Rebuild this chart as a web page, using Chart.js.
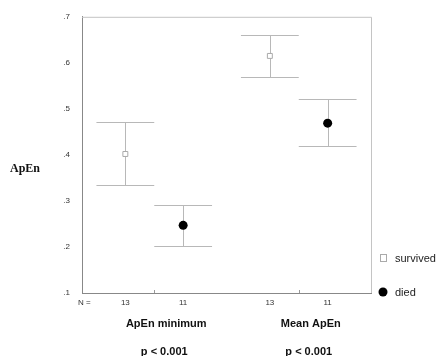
<!DOCTYPE html>
<html><head><meta charset="utf-8">
<script src="https://cdn.jsdelivr.net/npm/chart.js@4/dist/chart.umd.min.js"></script>
<style>html,body{margin:0;padding:0;background:#fff}#wrap{width:438px;height:356px}</style>
</head><body><div id="wrap"><canvas id="c" width="438" height="356"></canvas></div>
<script>
const categories = ['ApEn minimum', 'Mean ApEn'];
const pValues = ['p < 0.001', 'p < 0.001'];
const seriesNames = ['survived', 'died'];
const survivedN = ['13', '13'];
const diedN = ['11', '11'];
const survivedMean = [0.402, 0.615];
const survivedUpper = [0.471, 0.660];
const survivedLower = [0.334, 0.569];
const diedMean = [0.247, 0.469];
const diedUpper = [0.291, 0.521];
const diedLower = [0.203, 0.420];
const yTicks = [0.1, 0.2, 0.3, 0.4, 0.5, 0.6, 0.7];
const yTickLabels = ['.1', '.2', '.3', '.4', '.5', '.6', '.7'];
const yTitle = 'ApEn';
const nPrefix = 'N =';

// group i centre at x = 2i+1; survived at -0.4, died at +0.4
const OFF = 0.4;
const survPts = survivedMean.map((v, i) => ({x: 2 * i + 1 - OFF, y: v, lo: survivedLower[i], hi: survivedUpper[i]}));
const diedPts = diedMean.map((v, i) => ({x: 2 * i + 1 + OFF, y: v, lo: diedLower[i], hi: diedUpper[i]}));
const xTickVals = [];
const xTickText = {};
categories.forEach((c, i) => {
  xTickVals.push(2 * i + 1 - OFF, 2 * i + 1 + OFF);
  xTickText[(2 * i + 1 - OFF).toFixed(2)] = survivedN[i];
  xTickText[(2 * i + 1 + OFF).toFixed(2)] = diedN[i];
});

const errPlugin = {
  id: 'errbars',
  beforeDatasetsDraw(chart) {
    const {ctx, chartArea: a, scales: {x, y}} = chart;
    ctx.save();
    // top/right frame
    ctx.strokeStyle = '#c4c4c4';
    ctx.lineWidth = 1;
    ctx.beginPath();
    ctx.moveTo(a.left, a.top + 0.5); ctx.lineTo(a.right + 0.5, a.top + 0.5); ctx.lineTo(a.right + 0.5, a.bottom);
    ctx.stroke();
    // error bars
    ctx.strokeStyle = '#b8b8b8';
    chart.data.datasets.forEach(ds => {
      ds.data.forEach(p => {
        const px = Math.round(x.getPixelForValue(p.x)) + 0.5;
        const x0 = x.getPixelForValue(p.x - OFF), x1 = x.getPixelForValue(p.x + OFF);
        const yl = Math.round(y.getPixelForValue(p.lo)) + 0.5, yh = Math.round(y.getPixelForValue(p.hi)) + 0.5;
        ctx.beginPath();
        ctx.moveTo(px, yh); ctx.lineTo(px, yl);
        ctx.moveTo(x0, yh); ctx.lineTo(x1, yh);
        ctx.moveTo(x0, yl); ctx.lineTo(x1, yl);
        ctx.stroke();
      });
    });
    // small ticks at group centres
    ctx.strokeStyle = '#999';
    categories.forEach((c, i) => {
      const px = Math.round(x.getPixelForValue(2 * i + 1)) + 0.5;
      ctx.beginPath(); ctx.moveTo(px, a.bottom - 3); ctx.lineTo(px, a.bottom); ctx.stroke();
    });
    ctx.restore();
  },
  afterDraw(chart) {
    const {ctx, chartArea: a, scales: {x, y}} = chart;
    ctx.save();
    ctx.fillStyle = '#111';
    ctx.textAlign = 'left'; ctx.textBaseline = 'middle';
    ctx.font = 'bold 12px "Liberation Serif", "Times New Roman", serif';
    ctx.fillText(yTitle, 10, y.getPixelForValue(0.4) + 14);
    ctx.font = '8px "Liberation Sans", Arial, sans-serif';
    ctx.fillStyle = '#333';
    ctx.fillText(nPrefix, a.left - 4, a.bottom + 10);
    ctx.textAlign = 'center';
    ctx.fillStyle = '#111';
    categories.forEach((c, i) => {
      const cx = x.getPixelForValue(2 * i + 1) + 12;
      ctx.font = 'bold 11px "Liberation Sans", Arial, sans-serif';
      ctx.fillText(c, cx, a.bottom + 31);
      ctx.fillText(pValues[i], cx - 2, a.bottom + 59);
    });
    // legend
    ctx.textAlign = 'left';
    ctx.font = '11px "Liberation Sans", Arial, sans-serif';
    const lx = a.right + 12;
    const ly1 = y.getPixelForValue(0.18) + 2, ly2 = y.getPixelForValue(0.1) - 1;
    ctx.strokeStyle = '#aaa'; ctx.lineWidth = 1;
    ctx.strokeRect(Math.round(lx - 3) + 0.5, Math.round(ly1 - 4) + 0.5, 6, 7);
    ctx.fillStyle = '#222';
    ctx.fillText(seriesNames[0], lx + 12, ly1 + 1);
    ctx.beginPath(); ctx.arc(lx, ly2, 4.5, 0, Math.PI * 2); ctx.fillStyle = '#000'; ctx.fill();
    ctx.fillStyle = '#222';
    ctx.fillText(seriesNames[1], lx + 12, ly2 + 1);
    ctx.restore();
  }
};

new Chart(document.getElementById('c'), {
  type: 'scatter',
  data: {
    datasets: [
      {label: seriesNames[0], data: survPts, pointStyle: 'rect', pointRadius: 3.5, borderColor: '#aaa', backgroundColor: 'rgba(255,255,255,1)', borderWidth: 1},
      {label: seriesNames[1], data: diedPts, pointStyle: 'circle', pointRadius: 4.5, borderColor: '#000', backgroundColor: '#000', borderWidth: 0}
    ]
  },
  options: {
    responsive: false,
    animation: false,
    devicePixelRatio: 1,
    layout: {padding: {left: 0, top: 16, right: 67, bottom: 0}},
    plugins: {legend: {display: false}, tooltip: {enabled: false}},
    scales: {
      x: {
        type: 'linear', min: 0, max: 4,
        afterBuildTicks: s => { s.ticks = xTickVals.map(v => ({value: v})); },
        afterFit: s => { s.height = 63; },
        grid: {display: false, drawTicks: false},
        border: {display: true, color: '#888', width: 1},
        ticks: {padding: 5, color: '#333', font: {size: 8, family: '"Liberation Sans", Arial, sans-serif'},
          callback: v => xTickText[Number(v).toFixed(2)] || ''}
      },
      y: {
        type: 'linear', min: 0.1, max: 0.7,
        afterBuildTicks: s => { s.ticks = yTicks.map(v => ({value: v})); },
        afterFit: s => { s.width = 82; },
        grid: {display: false, drawTicks: false},
        border: {display: true, color: '#888', width: 1},
        ticks: {padding: 12, color: '#333', font: {size: 8, family: '"Liberation Sans", Arial, sans-serif'},
          callback: (v) => { const i = yTicks.findIndex(t => Math.abs(t - v) < 1e-6); return i >= 0 ? yTickLabels[i] : ''; }}
      }
    }
  },
  plugins: [errPlugin]
});
</script></body></html>
